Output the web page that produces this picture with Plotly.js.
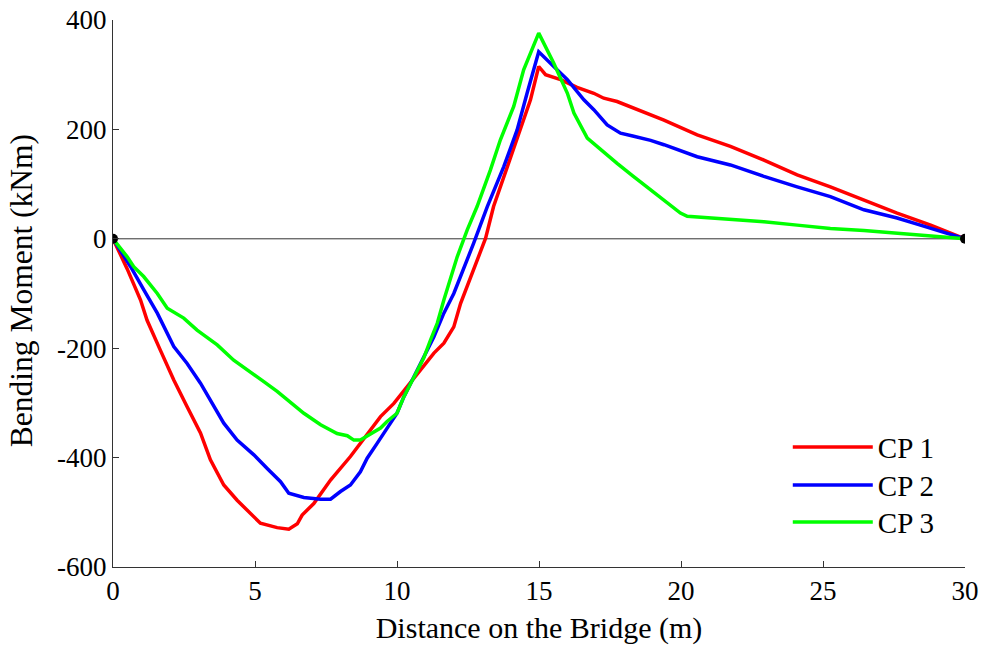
<!DOCTYPE html>
<html>
<head>
<meta charset="utf-8">
<script src="https://cdn.plot.ly/plotly-3.0.1.min.js"></script>
<style>html,body{margin:0;padding:0;background:#fff;}#chart{width:981px;height:646px;}</style>
</head>
<body>
<div id="chart"></div>
<script>
// CP 1 (red)
var cp1X = [0, 0.5, 0.97, 1.2, 1.67, 2.14, 2.61, 3.08, 3.43, 3.9, 4.37, 4.73, 5.19, 5.78, 6.19, 6.49, 6.66, 7.07, 7.66, 8.36, 8.95, 9.42, 9.89, 10.36, 10.94, 11.3, 11.65, 12.0, 12.24, 12.7, 13.12, 13.4, 13.76, 14.23, 14.7, 14.99, 15.23, 15.76, 16.34, 16.93, 17.28, 17.75, 18.3, 18.93, 19.4, 20.57, 21.74, 22.92, 24.09, 25.26, 26.44, 27.61, 28.79, 30];
var cp1Y = [0, -55, -112, -149, -204, -258, -307, -355, -404, -450, -478, -496, -520, -528, -531, -521, -505, -484, -441, -398, -356, -325, -301, -270, -234, -209, -191, -161, -118, -57, 1, 59, 114, 187, 254, 315, 300, 291, 277, 266, 257, 251, 240, 227, 217, 190, 169, 144, 117, 95, 71, 47, 25, 0];
// CP 2 (blue)
var cp2X = [0, 0.62, 1.08, 1.56, 2.14, 2.61, 3.08, 3.43, 3.9, 4.37, 4.96, 5.43, 5.9, 6.19, 6.72, 7.31, 7.66, 8.01, 8.36, 8.71, 8.95, 9.3, 9.65, 10.0, 10.24, 10.59, 10.94, 11.3, 11.65, 12.0, 12.7, 13.18, 13.76, 14.23, 14.58, 14.99, 15.52, 16.0, 16.58, 16.93, 17.4, 17.87, 18.3, 18.93, 19.4, 20.57, 21.74, 22.92, 24.09, 25.26, 26.44, 27.61, 28.43, 29.37, 30];
var cp2Y = [0, -51, -93, -136, -197, -228, -264, -295, -337, -368, -395, -420, -444, -465, -473, -476, -476, -462, -450, -426, -401, -374, -347, -319, -289, -252, -215, -179, -136, -100, -8, 59, 132, 199, 266, 342, 315, 291, 254, 236, 208, 193, 188, 180, 172, 150, 135, 114, 95, 77, 53, 38, 25, 10, 0];
// CP 3 (green)
var cp3X = [0, 0.5, 0.73, 1.08, 1.56, 1.91, 2.49, 2.96, 3.2, 3.67, 4.25, 4.84, 5.31, 5.78, 6.25, 6.72, 7.31, 7.89, 8.25, 8.48, 8.71, 9.07, 9.42, 9.65, 10.0, 10.24, 10.59, 10.94, 11.18, 11.42, 11.65, 12.12, 12.47, 12.82, 13.29, 13.64, 14.11, 14.46, 14.99, 15.52, 16.0, 16.23, 16.7, 17.17, 17.75, 18.3, 18.93, 19.4, 19.98, 20.22, 21.15, 21.74, 22.92, 24.09, 25.26, 26.44, 27.61, 28.79, 30];
var cp3Y = [0, -33, -51, -69, -100, -127, -145, -167, -176, -194, -222, -243, -261, -279, -298, -319, -340, -356, -360, -368, -368, -356, -346, -334, -319, -289, -252, -218, -185, -154, -112, -33, 16, 59, 126, 181, 242, 309, 376, 321, 266, 230, 184, 163, 138, 115, 89, 71, 47, 41, 38, 35, 31, 25, 19, 15, 10, 4, 0];
// supports
var supportX = [0, 30];
var supportY = [0, 0];
var seriesNames = ['CP 1', 'CP 2', 'CP 3'];
var seriesColors = ['#ff0000', '#0000ff', '#00ff00'];
var xTicks = [0, 5, 10, 15, 20, 25, 30];
var yTicks = [-600, -400, -200, 0, 200, 400];

var font = 'Liberation Serif';
var traces = [
  {x: supportX, y: supportY, mode: 'lines', line: {color: '#333333', width: 1}, showlegend: false, hoverinfo: 'skip'},
  {x: cp1X, y: cp1Y, name: seriesNames[0], mode: 'lines', line: {color: seriesColors[0], width: 3.5}, legend: 'legend'},
  {x: cp2X, y: cp2Y, name: seriesNames[1], mode: 'lines', line: {color: seriesColors[1], width: 3.5}, legend: 'legend2'},
  {x: cp3X, y: cp3Y, name: seriesNames[2], mode: 'lines', line: {color: seriesColors[2], width: 3.5}, legend: 'legend3'},
  {x: supportX, y: supportY, mode: 'markers', marker: {color: '#000000', size: 10}, showlegend: false, hoverinfo: 'skip'}
];

function legendAt(y) {
  return {x: 0.792, y: y, xanchor: 'left', yanchor: 'top', bgcolor: 'rgba(0,0,0,0)',
          font: {family: font, size: 29, color: '#000000'}, itemwidth: 80, tracegroupgap: 0};
}

var layout = {
  width: 981, height: 646,
  margin: {l: 113, r: 16, t: 20, b: 79},
  paper_bgcolor: '#ffffff', plot_bgcolor: '#ffffff',
  font: {family: font, size: 28, color: '#000000'},
  showlegend: true,
  legend: legendAt(0.2656),
  legend2: legendAt(0.1962),
  legend3: legendAt(0.1285),
  xaxis: {
    range: [0, 30], tickvals: xTicks, ticktext: xTicks.map(String),
    showgrid: false, zeroline: false, showline: true, linecolor: '#333333', linewidth: 1,
    ticks: 'inside', ticklen: 6, tickcolor: '#333333', mirror: false,
    tickfont: {family: font, size: 27, color: '#000000'},
    title: {text: 'Distance on the Bridge (m)', font: {family: font, size: 30, color: '#000000'}, standoff: 11}
  },
  yaxis: {
    range: [-600, 400], tickvals: yTicks, ticktext: yTicks.map(String),
    showgrid: false, zeroline: false, showline: true, linecolor: '#333333', linewidth: 1,
    ticks: 'inside', ticklen: 6, tickcolor: '#333333', mirror: false,
    tickfont: {family: font, size: 27, color: '#000000'}
  },
  annotations: [{
    text: 'Bending Moment (kNm)', textangle: -90, showarrow: false,
    xref: 'paper', yref: 'paper', x: -0.108, y: 0.506, xanchor: 'center', yanchor: 'middle',
    font: {family: font, size: 31.5, color: '#000000'}
  }]
};
Plotly.newPlot('chart', traces, layout, {displayModeBar: false, staticPlot: true});
</script>
</body>
</html>
